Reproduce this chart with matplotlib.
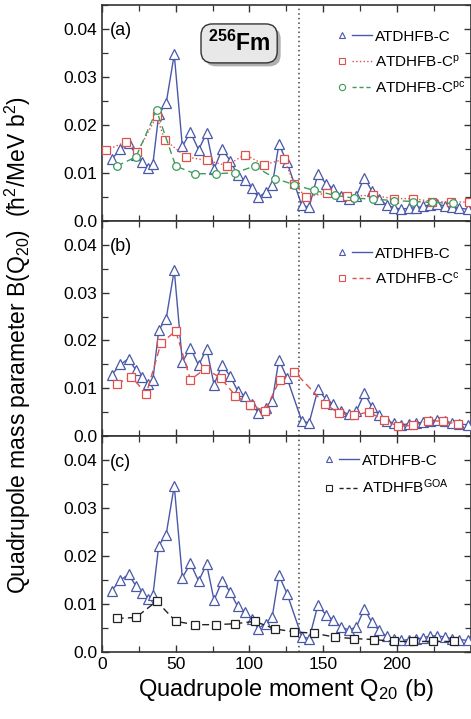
import matplotlib
matplotlib.use('Agg')
import matplotlib.pyplot as plt
import matplotlib.patheffects as pe
from matplotlib.lines import Line2D
from matplotlib.legend_handler import HandlerTuple
from matplotlib.ticker import MultipleLocator, FuncFormatter

plt.rcParams['font.family'] = ['Liberation Sans', 'DejaVu Sans']
plt.rcParams['mathtext.fontset'] = 'custom'
plt.rcParams['mathtext.rm'] = 'Liberation Sans'
plt.rcParams['mathtext.it'] = 'Liberation Sans:italic'
plt.rcParams['mathtext.bf'] = 'Liberation Sans:bold'

# ATDHFB-C (same in all panels)
q_c = [6.5, 12.5, 18, 23, 27, 31, 34.5, 38.5, 43.5, 49, 54.5, 60, 65.5, 71, 76,
       81.5, 87, 92, 97, 101.5, 106, 111, 115.5, 120, 125.5, 135.5, 140.5, 146.5,
       152, 157, 162, 167.5, 172.5, 178, 183, 188, 193, 198, 203, 208, 213, 218,
       222.5, 227.5, 232.5, 237.5, 242.5, 248]
b_c = [0.0128, 0.0150, 0.0162, 0.0138, 0.0123, 0.0110, 0.0118, 0.0222, 0.0245,
       0.0347, 0.0155, 0.0185, 0.0148, 0.0183, 0.0108, 0.0149, 0.0125, 0.0095,
       0.0084, 0.0068, 0.0049, 0.0059, 0.0074, 0.0160, 0.0122, 0.0032, 0.0028,
       0.0098, 0.0077, 0.0067, 0.0052, 0.0046, 0.0052, 0.0090, 0.0062, 0.0045,
       0.0033, 0.0027, 0.0024, 0.0026, 0.0027, 0.0030, 0.0033, 0.0034, 0.0031,
       0.0028, 0.0026, 0.0024]

# ATDHFB-C^p (panel a)
q_p = [3, 16.5, 24, 37, 42.5, 57, 71, 84.5, 97, 110, 123.5, 130.5, 138.5, 152.5,
       166, 183.5, 198, 211, 224, 237, 249]
b_p = [0.0147, 0.0165, 0.0143, 0.0218, 0.0169, 0.0133, 0.0126, 0.0115, 0.0138,
       0.0117, 0.0128, 0.0076, 0.0049, 0.0058, 0.0051, 0.0053, 0.0046, 0.0046,
       0.0040, 0.0039, 0.0039]

# ATDHFB-C^pc (panel a)
q_pc = [10, 23, 37, 50, 63, 77, 90.5, 103.5, 117.5, 130.5, 144, 158, 171, 184,
        198, 211, 224, 238]
b_pc = [0.0114, 0.0133, 0.0230, 0.0114, 0.0098, 0.0098, 0.0100, 0.0114, 0.0088,
        0.0075, 0.0063, 0.0053, 0.0047, 0.0045, 0.0042, 0.0040, 0.0038, 0.0036]

# ATDHFB-C^c (panel b)
q_cc = [10, 20, 30, 40, 50, 60, 70, 80.5, 90.5, 100.5, 110.5, 120.5, 130.5, 151,
        161, 171, 181, 191, 201, 211, 221, 231.5, 241.5]
b_cc = [0.0110, 0.0124, 0.0089, 0.0194, 0.0220, 0.0118, 0.0141, 0.0122, 0.0085,
        0.0065, 0.0053, 0.0117, 0.0135, 0.0068, 0.0048, 0.0044, 0.0051, 0.0034,
        0.0021, 0.0023, 0.0032, 0.0032, 0.0025]

# ATDHFB^GOA (panel c)
q_goa = [10, 23, 37, 50, 63, 77, 90.5, 103.5, 117.5, 130.5, 144, 158, 171, 184.5,
         198, 211, 224.5, 238.5]
b_goa = [0.0070, 0.0072, 0.0106, 0.0064, 0.0057, 0.0057, 0.0059, 0.0064, 0.0048,
         0.0042, 0.0039, 0.0031, 0.0028, 0.0026, 0.0022, 0.0022, 0.0022, 0.0022]

q_line = 133.5
x_ticks = [0, 50, 100, 150, 200]

blue = '#4a58a8'
red = '#e0504c'
green = '#3f9a5c'
black = '#222222'

fig, axes = plt.subplots(3, 1, figsize=(4.71, 7.19), dpi=100, sharex=True)
fig.subplots_adjust(left=0.2166, right=0.999, bottom=0.0932, top=0.993, hspace=0)


def series(ax, q, b, color, marker, ls, ms):
    ax.plot(q, b, color=color, ls=ls, lw=1.0, marker=marker, ms=ms,
            mfc='white', mec=color, mew=0.9, zorder=3)


def leg(ax, items, anchor):
    handles = []
    labels = []
    for color, marker, ls, lab in items:
        m = Line2D([], [], ls='none', marker=marker, ms=4.5, mfc='white',
                   mec=color, mew=0.8)
        l = Line2D([], [], color=color, ls=ls, lw=1.0)
        handles.append((m, l))
        labels.append(lab)
    ax.legend(handles, labels, handler_map={tuple: HandlerTuple(ndivide=None, pad=0.0)},
              loc='upper left', bbox_to_anchor=anchor, frameon=False,
              borderpad=0, borderaxespad=0, handlelength=2.6,
              handletextpad=0.2, labelspacing=0.65, fontsize=11)


ax = axes[0]
series(ax, q_c, b_c, blue, '^', '-', 6.5)
series(ax, q_p, b_p, red, 's', ':', 5.5)
series(ax, q_pc, b_pc, green, 'o', (0, (5, 3)), 5.5)
leg(ax, [(blue, '^', '-', 'ATDHFB-C'),
         (red, 's', ':', r'ATDHFB-C$^{\mathrm{p}}$'),
         (green, 'o', (0, (3, 2)), r'ATDHFB-C$^{\mathrm{pc}}$')], (0.625, 0.885))
t = ax.text(0.372, 0.822, r'$^{\mathbf{256}}$Fm', transform=ax.transAxes,
            fontsize=16.5, fontweight='bold', ha='center', va='center', zorder=5,
            bbox=dict(boxstyle='round,pad=0.3,rounding_size=0.5', fc='#e8e8e8',
                      ec='#333333', lw=1.0))
t.get_bbox_patch().set_path_effects([
    pe.SimplePatchShadow(offset=(2.5, -2.5), shadow_rgbFace='#b0b0b0', alpha=1.0),
    pe.Normal()])

ax = axes[1]
series(ax, q_c, b_c, blue, '^', '-', 6.5)
series(ax, q_cc, b_cc, red, 's', (0, (5, 3)), 6)
leg(ax, [(blue, '^', '-', 'ATDHFB-C'),
         (red, 's', (0, (3, 2)), r'ATDHFB-C$^{\mathrm{c}}$')], (0.625, 0.88))

ax = axes[2]
series(ax, q_c, b_c, blue, '^', '-', 6.5)
series(ax, q_goa, b_goa, black, 's', (0, (5, 3)), 5.5)
leg(ax, [(blue, '^', '-', 'ATDHFB-C'),
         (black, 's', (0, (3, 2)), r'ATDHFB$^{\mathrm{GOA}}$')], (0.59, 0.92))

fmt = FuncFormatter(lambda v, p: '0.0' if abs(v) < 1e-9 else '%.2f' % v)
for ax, lab in zip(axes, ['(a)', '(b)', '(c)']):
    ax.axvline(q_line, color='#444444', ls=(0, (1, 2)), lw=1.1, zorder=1)
    ax.set_xlim(0, 250)
    ax.set_ylim(0, 0.045)
    ax.set_xticks(x_ticks)
    ax.xaxis.set_minor_locator(MultipleLocator(25))
    ax.yaxis.set_major_locator(MultipleLocator(0.01))
    ax.yaxis.set_minor_locator(MultipleLocator(0.005))
    ax.yaxis.set_major_formatter(fmt)
    ax.tick_params(which='both', direction='in', top=True, right=True,
                   labelsize=12.5, color='#333333')
    ax.tick_params(which='major', length=5, width=1.0)
    ax.tick_params(which='minor', length=4, width=0.9)
    for s in ax.spines.values():
        s.set_linewidth(1.2)
        s.set_color('#333333')
    ax.text(0.02, 0.92, lab, transform=ax.transAxes, fontsize=13,
            ha='left', va='top')

axes[2].set_xlabel(r'Quadrupole moment Q$_{20}$ (b)', fontsize=17, labelpad=4)
fig.text(0.038, 0.52, 'Quadrupole mass parameter B(Q$_{20}$)  (ħ$^{2}$/MeV b$^{2}$)',
         rotation=90, fontsize=16.5, ha='center', va='center')

fig.savefig('out.png', dpi=100)
